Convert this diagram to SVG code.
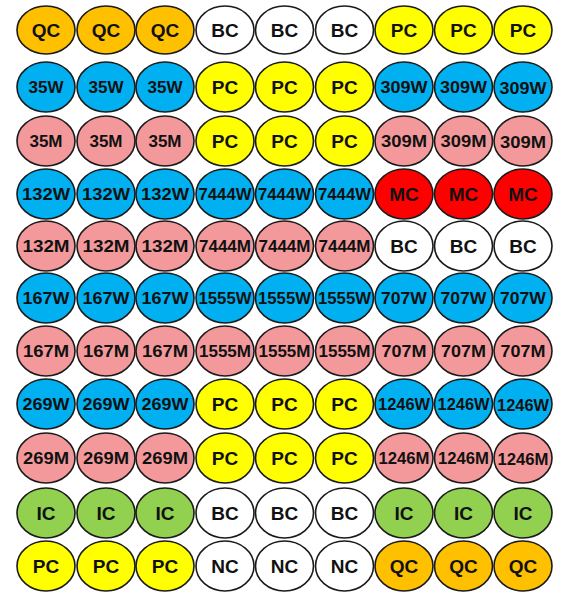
<svg xmlns="http://www.w3.org/2000/svg" width="561" height="592" viewBox="0 0 561 592">
<style>
ellipse{stroke:#1a1a1a;stroke-width:1.6}
text{font-family:"Liberation Sans",Arial,sans-serif;font-weight:bold;font-size:17px;fill:#111;text-anchor:middle}
text.s{font-size:19px}
.q{fill:#FFC000}.b{fill:#FFFFFF}.p{fill:#FFFF00}.w{fill:#00B0F0}.m{fill:#F4999B}.r{fill:#FF0000}.g{fill:#92D050}
</style>
<rect width="561" height="592" fill="#fff"/>
<g id="connectors"/>
<g id="r1">
<g id="n1_1"><ellipse class="q" cx="46" cy="30" rx="29" ry="24"/><text class="s" x="46" y="37">QC</text></g>
<g id="n1_2"><ellipse class="q" cx="106" cy="30" rx="29" ry="24"/><text class="s" x="106" y="37">QC</text></g>
<g id="n1_3"><ellipse class="q" cx="165" cy="30" rx="29" ry="24"/><text class="s" x="165" y="37">QC</text></g>
<g id="n1_4"><ellipse class="b" cx="225" cy="30" rx="29" ry="24"/><text class="s" x="225" y="37">BC</text></g>
<g id="n1_5"><ellipse class="b" cx="284.5" cy="30" rx="29" ry="24"/><text class="s" x="284.5" y="37">BC</text></g>
<g id="n1_6"><ellipse class="b" cx="344.5" cy="30" rx="29" ry="24"/><text class="s" x="344.5" y="37">BC</text></g>
<g id="n1_7"><ellipse class="p" cx="404" cy="30" rx="29" ry="24"/><text class="s" x="404" y="37">PC</text></g>
<g id="n1_8"><ellipse class="p" cx="463.5" cy="30" rx="29" ry="24"/><text class="s" x="463.5" y="37">PC</text></g>
<g id="n1_9"><ellipse class="p" cx="523" cy="30" rx="29" ry="24"/><text class="s" x="523" y="37">PC</text></g>
</g>
<g id="r2">
<g id="n2_1"><ellipse class="w" cx="46" cy="87" rx="29" ry="25"/><text x="46" y="93">35W</text></g>
<g id="n2_2"><ellipse class="w" cx="106" cy="87" rx="29" ry="25"/><text x="106" y="93">35W</text></g>
<g id="n2_3"><ellipse class="w" cx="165" cy="87" rx="29" ry="25"/><text x="165" y="93">35W</text></g>
<g id="n2_4"><ellipse class="p" cx="225" cy="87" rx="29" ry="25"/><text class="s" x="225" y="94">PC</text></g>
<g id="n2_5"><ellipse class="p" cx="284.5" cy="87" rx="29" ry="25"/><text class="s" x="284.5" y="94">PC</text></g>
<g id="n2_6"><ellipse class="p" cx="344.5" cy="87" rx="29" ry="25"/><text class="s" x="344.5" y="94">PC</text></g>
<g id="n2_7"><ellipse class="w" cx="404" cy="87" rx="29" ry="25"/><text x="404" y="93" textLength="47" lengthAdjust="spacingAndGlyphs">309W</text></g>
<g id="n2_8"><ellipse class="w" cx="463.5" cy="87" rx="29" ry="25"/><text x="463.5" y="93" textLength="47" lengthAdjust="spacingAndGlyphs">309W</text></g>
<g id="n2_9"><ellipse class="w" cx="523" cy="87" rx="29" ry="25"/><text x="523" y="94" textLength="47" lengthAdjust="spacingAndGlyphs">309W</text></g>
</g>
<g id="r3">
<g id="n3_1"><ellipse class="m" cx="46" cy="141" rx="29" ry="25"/><text x="46" y="147">35M</text></g>
<g id="n3_2"><ellipse class="m" cx="106" cy="141" rx="29" ry="25"/><text x="106" y="147">35M</text></g>
<g id="n3_3"><ellipse class="m" cx="165" cy="141" rx="29" ry="25"/><text x="165" y="147">35M</text></g>
<g id="n3_4"><ellipse class="p" cx="225" cy="141" rx="29" ry="25"/><text class="s" x="225" y="148">PC</text></g>
<g id="n3_5"><ellipse class="p" cx="284.5" cy="141" rx="29" ry="25"/><text class="s" x="284.5" y="148">PC</text></g>
<g id="n3_6"><ellipse class="p" cx="344.5" cy="141" rx="29" ry="25"/><text class="s" x="344.5" y="148">PC</text></g>
<g id="n3_7"><ellipse class="m" cx="404" cy="141" rx="29" ry="25"/><text x="404" y="147" textLength="46" lengthAdjust="spacingAndGlyphs">309M</text></g>
<g id="n3_8"><ellipse class="m" cx="463.5" cy="141" rx="29" ry="25"/><text x="463.5" y="147" textLength="46" lengthAdjust="spacingAndGlyphs">309M</text></g>
<g id="n3_9"><ellipse class="m" cx="523" cy="141" rx="29" ry="25"/><text x="523" y="148" textLength="46" lengthAdjust="spacingAndGlyphs">309M</text></g>
</g>
<g id="r4">
<g id="n4_1"><ellipse class="w" cx="46" cy="194" rx="29" ry="25"/><text x="46" y="200" textLength="48" lengthAdjust="spacingAndGlyphs">132W</text></g>
<g id="n4_2"><ellipse class="w" cx="106" cy="194" rx="29" ry="25"/><text x="106" y="200" textLength="48" lengthAdjust="spacingAndGlyphs">132W</text></g>
<g id="n4_3"><ellipse class="w" cx="165" cy="194" rx="29" ry="25"/><text x="165" y="200" textLength="48" lengthAdjust="spacingAndGlyphs">132W</text></g>
<g id="n4_4"><ellipse class="w" cx="225" cy="194" rx="29" ry="25"/><text x="225" y="200" textLength="53" lengthAdjust="spacingAndGlyphs">7444W</text></g>
<g id="n4_5"><ellipse class="w" cx="284.5" cy="194" rx="29" ry="25"/><text x="284.5" y="200" textLength="53" lengthAdjust="spacingAndGlyphs">7444W</text></g>
<g id="n4_6"><ellipse class="w" cx="344.5" cy="194" rx="29" ry="25"/><text x="344.5" y="200" textLength="53" lengthAdjust="spacingAndGlyphs">7444W</text></g>
<g id="n4_7"><ellipse class="r" cx="404" cy="194" rx="29" ry="25"/><text class="s" x="404" y="201">MC</text></g>
<g id="n4_8"><ellipse class="r" cx="463.5" cy="194" rx="29" ry="25"/><text class="s" x="463.5" y="201">MC</text></g>
<g id="n4_9"><ellipse class="r" cx="523" cy="194" rx="29" ry="25"/><text class="s" x="523" y="201">MC</text></g>
</g>
<g id="r5">
<g id="n5_1"><ellipse class="m" cx="46" cy="246" rx="29" ry="25"/><text x="46" y="252" textLength="47" lengthAdjust="spacingAndGlyphs">132M</text></g>
<g id="n5_2"><ellipse class="m" cx="106" cy="246" rx="29" ry="25"/><text x="106" y="252" textLength="47" lengthAdjust="spacingAndGlyphs">132M</text></g>
<g id="n5_3"><ellipse class="m" cx="165" cy="246" rx="29" ry="25"/><text x="165" y="252" textLength="47" lengthAdjust="spacingAndGlyphs">132M</text></g>
<g id="n5_4"><ellipse class="m" cx="225" cy="246" rx="29" ry="25"/><text x="225" y="252" textLength="52" lengthAdjust="spacingAndGlyphs">7444M</text></g>
<g id="n5_5"><ellipse class="m" cx="284.5" cy="246" rx="29" ry="25"/><text x="284.5" y="252" textLength="52" lengthAdjust="spacingAndGlyphs">7444M</text></g>
<g id="n5_6"><ellipse class="m" cx="344.5" cy="246" rx="29" ry="25"/><text x="344.5" y="252" textLength="52" lengthAdjust="spacingAndGlyphs">7444M</text></g>
<g id="n5_7"><ellipse class="b" cx="404" cy="246" rx="29" ry="25"/><text class="s" x="404" y="253">BC</text></g>
<g id="n5_8"><ellipse class="b" cx="463.5" cy="246" rx="29" ry="25"/><text class="s" x="463.5" y="253">BC</text></g>
<g id="n5_9"><ellipse class="b" cx="523" cy="246" rx="29" ry="25"/><text class="s" x="523" y="253">BC</text></g>
</g>
<g id="r6">
<g id="n6_1"><ellipse class="w" cx="46" cy="298" rx="29" ry="25"/><text x="46" y="304" textLength="47" lengthAdjust="spacingAndGlyphs">167W</text></g>
<g id="n6_2"><ellipse class="w" cx="106" cy="298" rx="29" ry="25"/><text x="106" y="304" textLength="47" lengthAdjust="spacingAndGlyphs">167W</text></g>
<g id="n6_3"><ellipse class="w" cx="165" cy="298" rx="29" ry="25"/><text x="165" y="304" textLength="47" lengthAdjust="spacingAndGlyphs">167W</text></g>
<g id="n6_4"><ellipse class="w" cx="225" cy="298" rx="29" ry="25"/><text x="225" y="304" textLength="53" lengthAdjust="spacingAndGlyphs">1555W</text></g>
<g id="n6_5"><ellipse class="w" cx="284.5" cy="298" rx="29" ry="25"/><text x="284.5" y="304" textLength="53" lengthAdjust="spacingAndGlyphs">1555W</text></g>
<g id="n6_6"><ellipse class="w" cx="344.5" cy="298" rx="29" ry="25"/><text x="344.5" y="304" textLength="53" lengthAdjust="spacingAndGlyphs">1555W</text></g>
<g id="n6_7"><ellipse class="w" cx="404" cy="298" rx="29" ry="25"/><text x="404" y="304" textLength="46" lengthAdjust="spacingAndGlyphs">707W</text></g>
<g id="n6_8"><ellipse class="w" cx="463.5" cy="298" rx="29" ry="25"/><text x="463.5" y="304" textLength="46" lengthAdjust="spacingAndGlyphs">707W</text></g>
<g id="n6_9"><ellipse class="w" cx="523" cy="298" rx="29" ry="25"/><text x="523" y="304" textLength="46" lengthAdjust="spacingAndGlyphs">707W</text></g>
</g>
<g id="r7">
<g id="n7_1"><ellipse class="m" cx="46" cy="351" rx="29" ry="25"/><text x="46" y="357" textLength="46" lengthAdjust="spacingAndGlyphs">167M</text></g>
<g id="n7_2"><ellipse class="m" cx="106" cy="351" rx="29" ry="25"/><text x="106" y="357" textLength="46" lengthAdjust="spacingAndGlyphs">167M</text></g>
<g id="n7_3"><ellipse class="m" cx="165" cy="351" rx="29" ry="25"/><text x="165" y="357" textLength="46" lengthAdjust="spacingAndGlyphs">167M</text></g>
<g id="n7_4"><ellipse class="m" cx="225" cy="351" rx="29" ry="25"/><text x="225" y="357" textLength="52" lengthAdjust="spacingAndGlyphs">1555M</text></g>
<g id="n7_5"><ellipse class="m" cx="284.5" cy="351" rx="29" ry="25"/><text x="284.5" y="357" textLength="52" lengthAdjust="spacingAndGlyphs">1555M</text></g>
<g id="n7_6"><ellipse class="m" cx="344.5" cy="351" rx="29" ry="25"/><text x="344.5" y="357" textLength="52" lengthAdjust="spacingAndGlyphs">1555M</text></g>
<g id="n7_7"><ellipse class="m" cx="404" cy="351" rx="29" ry="25"/><text x="404" y="357" textLength="45" lengthAdjust="spacingAndGlyphs">707M</text></g>
<g id="n7_8"><ellipse class="m" cx="463.5" cy="351" rx="29" ry="25"/><text x="463.5" y="357" textLength="45" lengthAdjust="spacingAndGlyphs">707M</text></g>
<g id="n7_9"><ellipse class="m" cx="523" cy="351" rx="29" ry="25"/><text x="523" y="357" textLength="45" lengthAdjust="spacingAndGlyphs">707M</text></g>
</g>
<g id="r8">
<g id="n8_1"><ellipse class="w" cx="46" cy="404" rx="29" ry="25"/><text x="46" y="410" textLength="47" lengthAdjust="spacingAndGlyphs">269W</text></g>
<g id="n8_2"><ellipse class="w" cx="106" cy="404" rx="29" ry="25"/><text x="106" y="410" textLength="47" lengthAdjust="spacingAndGlyphs">269W</text></g>
<g id="n8_3"><ellipse class="w" cx="165" cy="404" rx="29" ry="25"/><text x="165" y="410" textLength="47" lengthAdjust="spacingAndGlyphs">269W</text></g>
<g id="n8_4"><ellipse class="p" cx="225" cy="404" rx="29" ry="25"/><text class="s" x="225" y="411">PC</text></g>
<g id="n8_5"><ellipse class="p" cx="284.5" cy="404" rx="29" ry="25"/><text class="s" x="284.5" y="411">PC</text></g>
<g id="n8_6"><ellipse class="p" cx="344.5" cy="404" rx="29" ry="25"/><text class="s" x="344.5" y="411">PC</text></g>
<g id="n8_7"><ellipse class="w" cx="404" cy="404" rx="29" ry="25"/><text x="404" y="410" textLength="52" lengthAdjust="spacingAndGlyphs">1246W</text></g>
<g id="n8_8"><ellipse class="w" cx="463.5" cy="404" rx="29" ry="25"/><text x="463.5" y="410" textLength="52" lengthAdjust="spacingAndGlyphs">1246W</text></g>
<g id="n8_9"><ellipse class="w" cx="523" cy="404" rx="29" ry="25"/><text x="523" y="411" textLength="52" lengthAdjust="spacingAndGlyphs">1246W</text></g>
</g>
<g id="r9">
<g id="n9_1"><ellipse class="m" cx="46" cy="458" rx="29" ry="25"/><text x="46" y="464" textLength="46" lengthAdjust="spacingAndGlyphs">269M</text></g>
<g id="n9_2"><ellipse class="m" cx="106" cy="458" rx="29" ry="25"/><text x="106" y="464" textLength="46" lengthAdjust="spacingAndGlyphs">269M</text></g>
<g id="n9_3"><ellipse class="m" cx="165" cy="458" rx="29" ry="25"/><text x="165" y="464" textLength="46" lengthAdjust="spacingAndGlyphs">269M</text></g>
<g id="n9_4"><ellipse class="p" cx="225" cy="458" rx="29" ry="25"/><text class="s" x="225" y="465">PC</text></g>
<g id="n9_5"><ellipse class="p" cx="284.5" cy="458" rx="29" ry="25"/><text class="s" x="284.5" y="465">PC</text></g>
<g id="n9_6"><ellipse class="p" cx="344.5" cy="458" rx="29" ry="25"/><text class="s" x="344.5" y="465">PC</text></g>
<g id="n9_7"><ellipse class="m" cx="404" cy="458" rx="29" ry="25"/><text x="404" y="464" textLength="51" lengthAdjust="spacingAndGlyphs">1246M</text></g>
<g id="n9_8"><ellipse class="m" cx="463.5" cy="458" rx="29" ry="25"/><text x="463.5" y="464" textLength="51" lengthAdjust="spacingAndGlyphs">1246M</text></g>
<g id="n9_9"><ellipse class="m" cx="523" cy="458" rx="29" ry="25"/><text x="523" y="465" textLength="51" lengthAdjust="spacingAndGlyphs">1246M</text></g>
</g>
<g id="r10">
<g id="n10_1"><ellipse class="g" cx="46" cy="513" rx="29" ry="25"/><text class="s" x="46" y="520">IC</text></g>
<g id="n10_2"><ellipse class="g" cx="106" cy="513" rx="29" ry="25"/><text class="s" x="106" y="520">IC</text></g>
<g id="n10_3"><ellipse class="g" cx="165" cy="513" rx="29" ry="25"/><text class="s" x="165" y="520">IC</text></g>
<g id="n10_4"><ellipse class="b" cx="225" cy="513" rx="29" ry="25"/><text class="s" x="225" y="520">BC</text></g>
<g id="n10_5"><ellipse class="b" cx="284.5" cy="513" rx="29" ry="25"/><text class="s" x="284.5" y="520">BC</text></g>
<g id="n10_6"><ellipse class="b" cx="344.5" cy="513" rx="29" ry="25"/><text class="s" x="344.5" y="520">BC</text></g>
<g id="n10_7"><ellipse class="g" cx="404" cy="513" rx="29" ry="25"/><text class="s" x="404" y="520">IC</text></g>
<g id="n10_8"><ellipse class="g" cx="463.5" cy="513" rx="29" ry="25"/><text class="s" x="463.5" y="520">IC</text></g>
<g id="n10_9"><ellipse class="g" cx="523" cy="513" rx="29" ry="25"/><text class="s" x="523" y="520">IC</text></g>
</g>
<g id="r11">
<g id="n11_1"><ellipse class="p" cx="46" cy="566" rx="29" ry="25"/><text class="s" x="46" y="573">PC</text></g>
<g id="n11_2"><ellipse class="p" cx="106" cy="566" rx="29" ry="25"/><text class="s" x="106" y="573">PC</text></g>
<g id="n11_3"><ellipse class="p" cx="165" cy="566" rx="29" ry="25"/><text class="s" x="165" y="573">PC</text></g>
<g id="n11_4"><ellipse class="b" cx="225" cy="566" rx="29" ry="25"/><text class="s" x="225" y="573">NC</text></g>
<g id="n11_5"><ellipse class="b" cx="284.5" cy="566" rx="29" ry="25"/><text class="s" x="284.5" y="573">NC</text></g>
<g id="n11_6"><ellipse class="b" cx="344.5" cy="566" rx="29" ry="25"/><text class="s" x="344.5" y="573">NC</text></g>
<g id="n11_7"><ellipse class="q" cx="404" cy="566" rx="29" ry="25"/><text class="s" x="404" y="573">QC</text></g>
<g id="n11_8"><ellipse class="q" cx="463.5" cy="566" rx="29" ry="25"/><text class="s" x="463.5" y="573">QC</text></g>
<g id="n11_9"><ellipse class="q" cx="523" cy="566" rx="29" ry="25"/><text class="s" x="523" y="573">QC</text></g>
</g>
</svg>
